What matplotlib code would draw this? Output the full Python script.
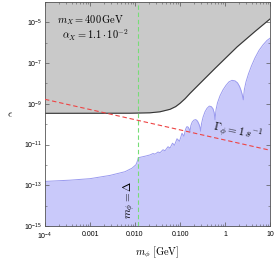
import numpy as np
import matplotlib
matplotlib.use("Agg")
import matplotlib.pyplot as plt
from matplotlib.ticker import FixedLocator, FixedFormatter, NullFormatter

plt.rcParams['font.family'] = ['Liberation Sans', 'DejaVu Sans']
plt.rcParams['mathtext.fontset'] = 'cm'

# --- data ---
# lower (blue) excluded region boundary
m_blue = [1.0e-4, 3.6e-4, 1.0e-3, 2.78e-3, 6.0e-3, 8.58e-3, 1.05e-2, 1.14e-2, 0.01183,
          0.01668, 0.02154, 0.02512, 0.02783, 0.03246, 0.03594, 0.04192, 0.04642,
          0.05412, 0.05995, 0.06813, 0.07549, 0.08577, 0.09749, 0.1108, 0.1227,
          0.1292, 0.1359, 0.1431, 0.1529, 0.1609, 0.1668,
          0.1738, 0.1867, 0.2047, 0.2244, 0.2448, 0.2644, 0.2783, 0.2884,
          0.3006, 0.3246, 0.3594, 0.3981, 0.4477, 0.4961, 0.5412, 0.5754, 0.5995,
          0.631, 0.6813, 0.7743, 0.9029, 1.052, 1.227, 1.431, 1.668, 1.896, 2.101,
          2.268, 2.423, 2.551,
          2.686, 2.929, 3.327, 3.881, 4.642, 5.702, 6.988, 8.577, 10.0]
eps_blue = [1.55e-13, 1.78e-13, 2.11e-13, 3.05e-13, 4.64e-13, 6.9e-13, 1.02e-12, 1.61e-12, 2.25e-12,
            2.67e-12, 3.09e-12, 3.62e-12, 3.38e-12, 4.29e-12, 3.96e-12, 5.56e-12, 4.97e-12,
            7.8e-12, 6.73e-12, 1.16e-11, 9.25e-12, 1.92e-11, 1.45e-11, 3.58e-11, 2.55e-11,
            4.49e-11, 6.3e-11, 7.62e-11, 7.05e-11, 5.62e-11, 4.24e-11,
            8.36e-11, 1.27e-10, 1.59e-10, 1.68e-10, 1.42e-10, 9.9e-11, 7.05e-11, 4.49e-11,
            1.05e-10, 2.18e-10, 4.06e-10, 6.01e-10, 7.71e-10, 7.29e-10, 5.69e-10, 3.62e-10, 1.64e-10,
            5.08e-10, 1.12e-9, 2.47e-9, 4.85e-9, 8.07e-9, 1.2e-8, 1.42e-8, 1.34e-8, 1.07e-8, 7.21e-9,
            4.59e-9, 2.76e-9, 1.57e-9,
            4.85e-9, 1.2e-8, 2.96e-8, 7.3e-8, 1.8e-7, 4.2e-7, 7.8e-7, 1.3e-6, 1.66e-6]

# upper (gray) excluded region boundary
m_gray = [1.0e-4, 7.74e-3, 0.0215, 0.0359, 0.06, 0.08, 0.1, 0.13, 0.167, 0.278, 0.6, 1.85, 4.64, 10.0]
eps_gray = [3.42e-10, 3.46e-10, 3.62e-10, 4.06e-10, 5.37e-10, 7.3e-10, 1.06e-9, 1.8e-9, 3.27e-9,
            1.01e-8, 5.5e-8, 6.22e-7, 3.58e-6, 1.47e-5]

# lifetime line Gamma = 1/s
m_gam = [1.0e-4, 10.0]
eps_gam = [1.66e-9, 5.26e-12]

m_delta = 0.0118

x_ticks = [1e-4, 1e-3, 1e-2, 1e-1, 1, 10]
x_labels = [r'$\mathregular{10^{-4}}$', '0.001', '0.010', '0.100', '1', '10']
y_ticks = [1e-15, 1e-13, 1e-11, 1e-9, 1e-7, 1e-5]
y_labels = [r'$\mathregular{10^{%d}}$' % e for e in [-15, -13, -11, -9, -7, -5]]

# --- figure ---
fig = plt.figure(figsize=(2.74, 2.61), dpi=100)
ax = fig.add_axes([45/274, 35/261, 225/274, 224/261])
ax.set_xscale('log')
ax.set_yscale('log')
ax.set_xlim(1e-4, 10)
ax.set_ylim(1e-15, 1e-4)

ax.fill_between(m_gray, eps_gray, 1e-3, color='#c9c9c9', lw=0, zorder=1)
ax.plot(m_gray, eps_gray, color='#333333', lw=0.8, zorder=2)
ax.fill_between(m_blue, 1e-16, eps_blue, color='#c9c9fa', lw=0, zorder=1)
ax.plot(m_blue, eps_blue, color='#9a9aef', lw=0.7, zorder=2)
ax.plot(m_gam, eps_gam, color='#ee4444', lw=0.8, dashes=(4, 2.5), zorder=3)
ax.axvline(m_delta, color='#77dd77', lw=0.8, dashes=(4, 2.5), zorder=3)

ax.text(0.052, 0.918, r'$m_X = 400\,\mathrm{GeV}$', transform=ax.transAxes,
        fontsize=7.5, ha='left', va='center')
ax.text(0.074, 0.852, r'$\alpha_X = 1.1\cdot 10^{-2}$', transform=ax.transAxes,
        fontsize=7.5, ha='left', va='center')
ax.text(0.375, 0.116, r'$m_\phi = \Delta$', transform=ax.transAxes, rotation=90,
        fontsize=8, ha='center', va='center')
ax.text(0.853, 0.415, r'$\Gamma_\phi = 1\,s^{-1}$', transform=ax.transAxes, rotation=-12,
        fontsize=8, ha='center', va='center')

ax.xaxis.set_major_locator(FixedLocator(x_ticks))
ax.xaxis.set_major_formatter(FixedFormatter(x_labels))
ax.yaxis.set_major_locator(FixedLocator(y_ticks))
ax.yaxis.set_major_formatter(FixedFormatter(y_labels))
ax.yaxis.set_minor_locator(FixedLocator([1e-14, 1e-12, 1e-10, 1e-8, 1e-6, 1e-4]))
ax.yaxis.set_minor_formatter(NullFormatter())
ax.xaxis.set_minor_formatter(NullFormatter())
ax.tick_params(which='both', direction='in', top=True, right=True, labelsize=5,
               color='#555555', pad=2)
ax.tick_params(axis='x', which='major', pad=3.5)
ax.tick_params(which='major', length=3, width=0.5)
ax.tick_params(which='minor', length=1.5, width=0.4)
for s in ax.spines.values():
    s.set_color('#555555')
    s.set_linewidth(0.6)

ax.set_xlabel(r'$m_\phi\ [\mathrm{GeV}]$', fontsize=7.5, labelpad=1.5)
ax.set_ylabel(r'$\epsilon$', fontsize=7.5, rotation=0, labelpad=10, va='center')

fig.savefig('out.png', dpi=100)
